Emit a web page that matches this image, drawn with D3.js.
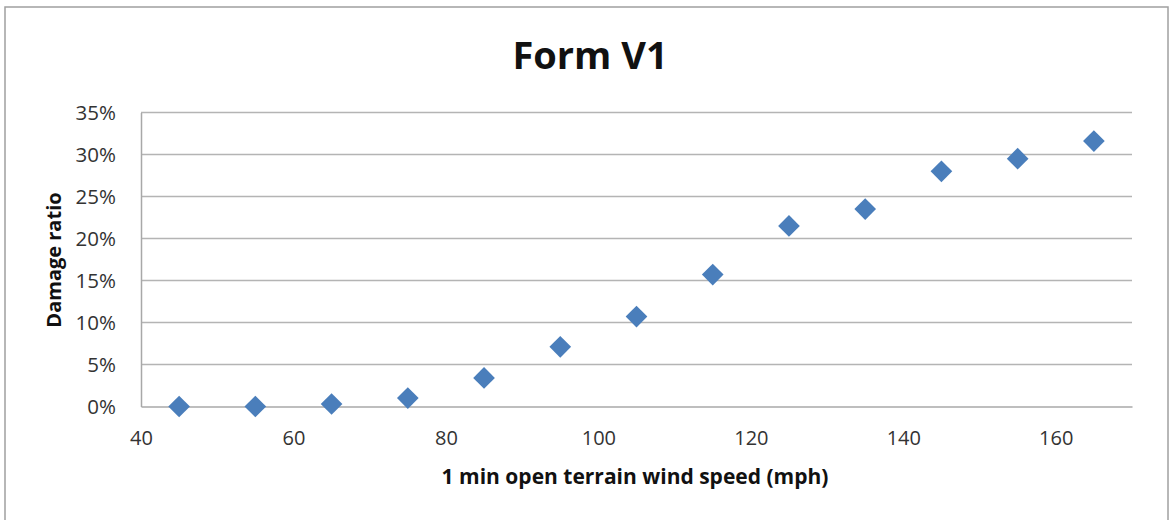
<!DOCTYPE html>
<html>
<head>
<meta charset="utf-8">
<script src="https://cdn.jsdelivr.net/npm/d3@7"></script>
<style>
  html, body { margin: 0; padding: 0; background: #fff; }
  svg { display: block; }
  text { font-family: "Open Sans", Lato, sans-serif; }
</style>
</head>
<body>
<svg id="chart" width="1171" height="520"></svg>
<script>
const windSpeed = [45, 55, 65, 75, 85, 95, 105, 115, 125, 135, 145, 155, 165];
const damageRatio = [0.000, 0.000, 0.003, 0.010, 0.034, 0.071, 0.107, 0.157, 0.215, 0.235, 0.280, 0.295, 0.316];
const xTicks = [40, 60, 80, 100, 120, 140, 160];
const yTicks = [0, 0.05, 0.10, 0.15, 0.20, 0.25, 0.30, 0.35];
const titleText = "Form V1";
const xLabel = "1 min open terrain wind speed (mph)";
const yLabel = "Damage ratio";

const W = 1171, H = 520;
const m = { left: 141, right: 1132, top: 112.5, bottom: 406.5 };
const svg = d3.select("#chart");
const FONT = "'Open Sans', Lato, sans-serif";

// outer frame
svg.append("rect").attr("x", 5).attr("y", 7).attr("width", 1163).attr("height", 530)
  .attr("fill", "#fff").attr("stroke", "#a0a0a0").attr("stroke-width", 1.5);

const x = d3.scaleLinear().domain([40, 170]).range([m.left, m.right]);
const y = d3.scaleLinear().domain([0, 0.35]).range([m.bottom, m.top]);

// gridlines
svg.append("g").selectAll("line").data(yTicks.filter(d => d > 0)).join("line")
  .attr("x1", m.left).attr("x2", m.right)
  .attr("y1", d => y(d)).attr("y2", d => y(d))
  .attr("stroke", "#b4b4b4").attr("stroke-width", 1.5);

// y axis
const yAxis = svg.append("g").attr("transform", `translate(${m.left},0)`)
  .call(d3.axisLeft(y).tickValues(yTicks).tickFormat(d3.format(".0%")).tickSize(0).tickPadding(25));
yAxis.select(".domain").attr("stroke", "#a8a8a8").attr("stroke-width", 1.5);
yAxis.selectAll("text").attr("font-size", 20.5).attr("fill", "#333").style("font-family", FONT);

// x axis
const xAxis = svg.append("g").attr("transform", `translate(0,${m.bottom})`)
  .call(d3.axisBottom(x).tickValues(xTicks).tickFormat(d3.format("d")).tickSize(0).tickPadding(24));
xAxis.select(".domain").attr("stroke", "#a8a8a8").attr("stroke-width", 1.5);
xAxis.selectAll("text").attr("font-size", 20).attr("fill", "#333").style("font-family", FONT);

// points
const diamond = d3.symbol().type(d3.symbolSquare).size(235);
svg.append("g").selectAll("path").data(windSpeed).join("path")
  .attr("d", diamond)
  .attr("transform", (d, i) => `translate(${x(d)},${y(damageRatio[i])}) rotate(45)`)
  .attr("fill", "#4a7ebb");

// title
svg.append("text").attr("x", 590).attr("y", 69).attr("text-anchor", "middle")
  .attr("font-size", 38).attr("font-weight", "bold").attr("fill", "#111").text(titleText);

// x label
svg.append("text").attr("x", 635).attr("y", 484).attr("text-anchor", "middle")
  .attr("font-size", 21).attr("font-weight", "bold").attr("fill", "#111").text(xLabel);

// y label
svg.append("text").attr("transform", "translate(61,260) rotate(-90)").attr("text-anchor", "middle")
  .attr("font-size", 20).attr("font-weight", "bold").attr("fill", "#111").text(yLabel);
</script>
</body>
</html>
